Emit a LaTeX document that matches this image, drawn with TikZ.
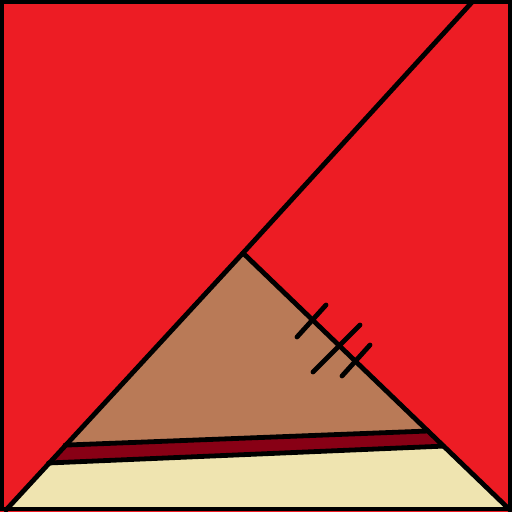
\documentclass[tikz,border=0pt]{standalone}
\definecolor{pred}{HTML}{ED1C24}
\definecolor{pbrown}{HTML}{B97A57}
\definecolor{pmaroon}{HTML}{880015}
\definecolor{pcream}{HTML}{EFE4B0}
\begin{document}
\begin{tikzpicture}[x=0.5pt,y=-0.5pt,
  edge/.style={draw=black,line width=2.4pt,line cap=round,line join=round},
  hash/.style={draw=black,line width=2.4pt,line cap=round}]
\useasboundingbox (0,0) rectangle (512,512);
% key points
\coordinate (top) at (474,0);
\coordinate (apex) at (243,253);
\coordinate (bl) at (6,510);
\coordinate (br) at (510,510);
\coordinate (al) at (65.1,445.1);
\coordinate (ar) at (428,431);
\coordinate (bbl) at (48.5,463);
\coordinate (bbr) at (443.6,446.1);
% fills
\fill[pred] (0,0) rectangle (512,512);
\fill[pbrown] (apex) -- (al) -- (ar) -- cycle;
\fill[pmaroon] (al) -- (ar) -- (bbr) -- (bbl) -- cycle;
\fill[pcream] (bbl) -- (bbr) -- (br) -- (bl) -- cycle;
% outlines
\draw[edge] (top) -- (apex);
\draw[edge] (apex) -- (bl);
\draw[edge] (apex) -- (br);
\draw[edge] (al) -- (ar);
\draw[edge] (bbl) -- (bbr);
% hash marks
\coordinate (h1a) at (297,337); \coordinate (h1b) at (326,305);
\coordinate (h2a) at (313,372); \coordinate (h2b) at (360,325);
\coordinate (h3a) at (342,376); \coordinate (h3b) at (370,345);
\draw[hash] (h1a) -- (h1b);
\draw[hash] (h2a) -- (h2b);
\draw[hash] (h3a) -- (h3b);
% frame
\draw[black,line width=2pt] (2,2) rectangle (510,509);
\end{tikzpicture}
\end{document}
